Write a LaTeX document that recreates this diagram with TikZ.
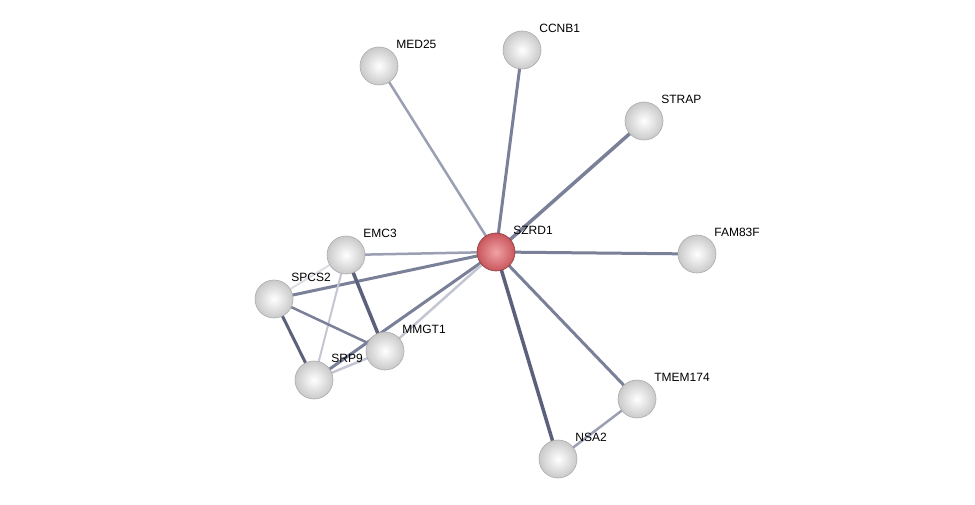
\documentclass[tikz,border=0pt]{standalone}
\usepackage{fontspec}
\setmainfont{Liberation Sans}
\usetikzlibrary{backgrounds}

\definecolor{elight}{HTML}{C4C7D3}
\definecolor{emid}{HTML}{9A9FB3}
\definecolor{edark}{HTML}{7A8098}
\definecolor{edeep}{HTML}{5C617B}
\definecolor{qin}{HTML}{F0A3A6}
\definecolor{qout}{HTML}{C8565C}

\tikzset{
  prot/.style={circle, minimum size=38pt, inner sep=0pt, draw=gray!65, line width=0.6pt,
    inner color=white, outer color=gray!42},
  query/.style={prot, draw=qout!70!black, inner color=qin, outer color=qout},
  lbl/.style={anchor=south west, inner sep=0pt, label distance=5pt,
    font=\fontsize{12}{14}\selectfont},
  link/.style={line width=#1},
  link/.default=2.5pt
}

\begin{document}
\begin{tikzpicture}[x=1pt, y=-1pt]
\useasboundingbox (0,0) rectangle (975,505);

\node[query] (SZRD1) at (496,252) [label={[lbl]45:SZRD1}] {};
\node[prot] (MED25) at (379,66) [label={[lbl]45:MED25}] {};
\node[prot] (CCNB1) at (522,50) [label={[lbl]45:CCNB1}] {};
\node[prot] (STRAP) at (644,121) [label={[lbl]45:STRAP}] {};
\node[prot] (FAM83F) at (697,254) [label={[lbl]45:FAM83F}] {};
\node[prot] (EMC3) at (346,255) [label={[lbl]45:EMC3}] {};
\node[prot] (SPCS2) at (274,299) [label={[lbl]45:SPCS2}] {};
\node[prot] (MMGT1) at (385,351) [label={[lbl]45:MMGT1}] {};
\node[prot] (SRP9) at (314,380) [label={[lbl]45:SRP9}] {};
\node[prot] (TMEM174) at (637,399) [label={[lbl]45:TMEM174}] {};
\node[prot] (NSA2) at (558,459) [label={[lbl]45:NSA2}] {};

\begin{scope}[on background layer]
  \fill[white] (0,0) rectangle (975,505);
  % edges from the query protein
  \draw[link, emid] (SZRD1.center) -- (MED25.center);
  \draw[link=3pt, edark] (SZRD1.center) -- (CCNB1.center);
  \draw[link=3.5pt, edark] (SZRD1.center) -- (STRAP.center);
  \draw[link=3pt, edark] (SZRD1.center) -- (FAM83F.center);
  \draw[link=3pt, edark] (SZRD1.center) -- (TMEM174.center);
  \draw[link=3.5pt, edeep] (SZRD1.center) -- (NSA2.center);
  \draw[link, emid] (SZRD1.center) -- (EMC3.center);
  \draw[link=3pt, edark] (SZRD1.center) -- (SPCS2.center);
  \draw[link=3pt, edark] (SZRD1.center) -- (SRP9.center);
  \draw[link, elight] (SZRD1.center) -- (MMGT1.center);
  % cluster on the left
  \draw[link=3.5pt, edeep] (EMC3.center) -- (MMGT1.center);
  \draw[link=2pt, elight!60] (EMC3.center) -- (SPCS2.center);
  \draw[link=2pt, elight] (EMC3.center) -- (SRP9.center);
  \draw[link=3pt, edeep] (SPCS2.center) -- (SRP9.center);
  \draw[link, edark] (SPCS2.center) -- (MMGT1.center);
  \draw[link, elight] (SRP9.center) -- (MMGT1.center);
  \draw[link, emid] (TMEM174.center) -- (NSA2.center);
\end{scope}
\end{tikzpicture}
\end{document}
